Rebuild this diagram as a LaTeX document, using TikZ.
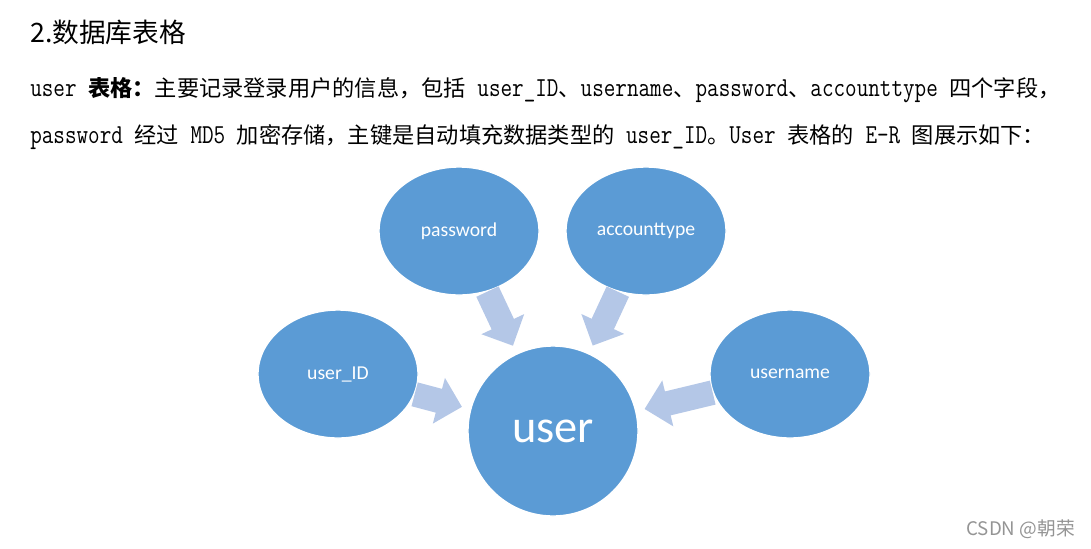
\documentclass[tikz,border=0pt]{standalone}
\usepackage{fontspec}
\setmainfont{Carlito}
\newfontfamily\cjk{Noto Sans CJK SC}
\newfontfamily\monolat{Latin Modern Mono}[FakeStretch=0.82]
\usepackage{tikz}
\usetikzlibrary{arrows.meta, shapes.geometric}
\definecolor{erblue}{RGB}{91,155,213}
\definecolor{erarrow}{RGB}{180,199,231}
\newcommand{\lt}[1]{{\monolat\fontsize{19.5}{20}\selectfont #1}}
\tikzset{
    attr/.style={ellipse, fill=erblue, draw=white, line width=1pt, inner sep=0pt,
        minimum width=4cm, minimum height=3.2cm, text=white, font=\fontsize{14}{16}\selectfont},
    entity/.style={circle, fill=erblue, draw=white, line width=1pt, inner sep=0pt,
        minimum size=4.25cm, text=white, font=\fontsize{33}{38}\selectfont},
    fatarrow/.style={draw=erarrow, line width=17.5pt, shorten >=6pt,
        -{Triangle[length=17pt, width=32.6pt]}},
    bodytext/.style={anchor=base west, inner sep=0pt, font=\cjk\fontsize{15.8}{18}\selectfont}
}

\begin{document}
\begin{tikzpicture}[x=0.025cm, y=-0.025cm]
    \useasboundingbox (0,0) rectangle (1091,548);

    % ---------------- text ----------------
    \node[anchor=base west, inner sep=0pt, font=\cjk\fontsize{19}{22}\selectfont] (title) at (30,42) {2.数据库表格};
    \node[bodytext] (line1) at (30,96)
        {\textbf{\lt{user }表格：}主要记录登录用户的信息，包括\lt{ user\_ID}、\lt{username}、\lt{password}、\lt{accounttype }四个字段，};
    \node[bodytext] (line2) at (30,143)
        {\lt{password }经过\lt{ MD5 }加密存储，主键是自动填充数据类型的\lt{ user\_ID}。\lt{User }表格的\lt{ E-R }图展示如下：};

    % ---------------- E-R ----------------
    \node[entity] (user) at (553,431) {user};
    \node[attr] (password) at (459,231) {password};
    \node[attr] (accounttype) at (646,231) {accounttype};
    \node[attr] (userid) at (338,374) {user\_ID};
    \node[attr] (username) at (790,374) {username};

    \foreach \a in {password,accounttype,userid,username}
        \draw[fatarrow] (\a) -- (user);

    \node[anchor=base east, inner sep=0pt, text=black!42, font=\cjk\fontsize{13.3}{15}\selectfont] (mark) at (1075,535) {CSDN @朝荣};
\end{tikzpicture}
\end{document}
